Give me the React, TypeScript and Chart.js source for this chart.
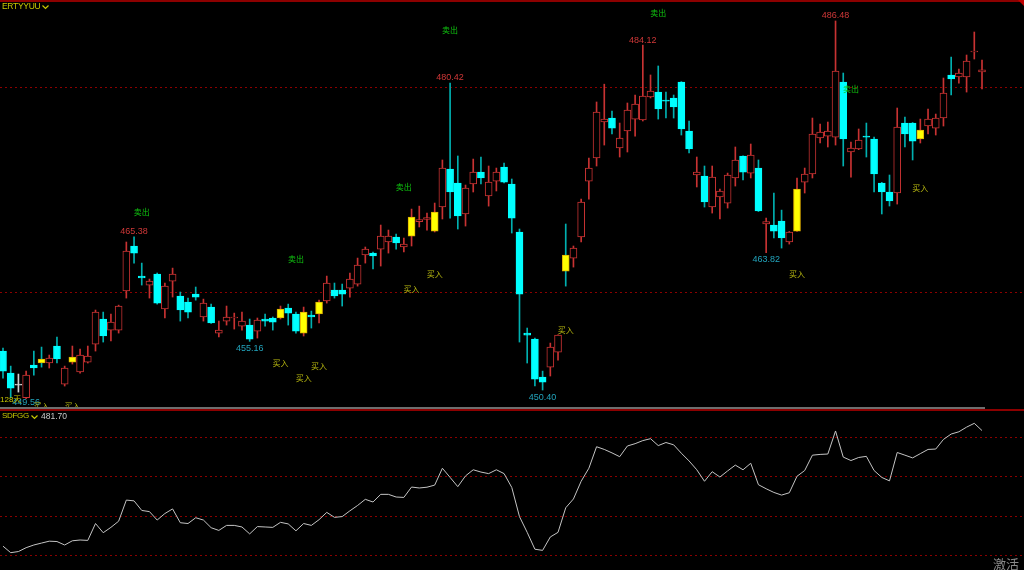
import React, { useEffect, useRef } from "react";
import { Chart, registerables } from "chart.js";

Chart.register(...registerables);

// ---- candle data (128 sessions) ----
const openPrices = [
  454.21, 452.06, 450.88, 449.66, 452.84, 453.43, 453.04, 454.70, 450.98, 453.13,
  452.16, 453.13, 454.89, 457.34, 456.26, 456.26, 460.08, 464.48, 461.54, 460.66,
  461.74, 458.32, 461.05, 459.59, 459.00, 459.78, 457.54, 458.51, 455.97, 457.14,
  457.44, 456.65, 456.75, 456.16, 457.34, 457.44, 457.44, 458.41, 457.83, 455.97,
  457.73, 457.83, 459.10, 460.17, 460.17, 460.37, 460.76, 463.60, 463.79, 464.18,
  464.87, 465.36, 464.38, 465.45, 466.87, 467.07, 465.94, 468.29, 472.01, 470.64,
  467.61, 470.54, 471.71, 469.37, 470.83, 472.20, 470.54, 465.85, 455.97, 455.38,
  451.67, 452.64, 454.11, 463.60, 463.30, 465.36, 470.83, 473.08, 476.60, 476.99,
  474.06, 475.72, 476.89, 476.80, 479.05, 479.53, 478.75, 478.95, 480.51, 475.72,
  471.42, 471.32, 468.29, 469.27, 468.68, 471.13, 473.28, 471.61, 472.10, 466.63,
  466.53, 466.92, 464.87, 465.94, 470.73, 471.52, 475.04, 475.23, 475.13, 480.51,
  473.67, 473.96, 475.23, 474.94, 470.64, 469.76, 469.66, 476.50, 476.50, 474.94,
  476.21, 476.01, 476.99, 481.20, 481.00, 481.00, 483.45, 481.49,
];
const highPrices = [
  454.50, 452.74, 451.96, 452.25, 454.21, 454.60, 453.82, 455.58, 452.74, 454.70,
  454.40, 454.70, 458.22, 458.02, 457.83, 458.70, 464.87, 465.38, 462.81, 461.25,
  461.84, 460.86, 462.32, 459.98, 459.39, 460.47, 459.29, 458.80, 457.14, 458.61,
  457.92, 458.02, 457.34, 457.44, 457.83, 457.54, 458.61, 458.80, 458.02, 458.51,
  458.12, 459.19, 461.54, 460.86, 460.76, 461.84, 463.30, 464.38, 463.89, 466.53,
  466.04, 465.65, 465.26, 468.09, 468.38, 467.70, 468.68, 472.89, 480.42, 473.28,
  470.44, 472.98, 473.18, 472.30, 472.10, 472.59, 471.03, 466.14, 456.46, 455.48,
  452.25, 454.99, 455.80, 466.63, 464.48, 469.07, 473.08, 478.56, 480.30, 477.68,
  476.50, 478.46, 479.24, 484.12, 481.20, 482.08, 479.53, 479.24, 480.55, 476.70,
  473.18, 472.30, 472.30, 470.05, 471.61, 474.16, 473.30, 474.45, 472.89, 467.21,
  469.66, 467.99, 465.90, 471.13, 472.10, 476.99, 476.40, 476.60, 486.48, 481.39,
  474.65, 475.92, 476.50, 475.13, 470.70, 471.42, 477.97, 477.09, 476.55, 476.89,
  477.87, 477.38, 480.90, 482.96, 481.78, 483.15, 485.40, 482.66,
];
const lowPrices = [
  451.57, 449.64, 450.20, 449.56, 451.86, 452.64, 452.55, 453.04, 450.79, 452.94,
  452.06, 453.04, 454.21, 455.09, 455.19, 455.97, 459.39, 462.81, 460.66, 459.39,
  458.80, 457.44, 459.49, 457.14, 457.44, 459.19, 457.14, 456.90, 455.58, 456.75,
  456.36, 456.26, 455.16, 455.48, 456.65, 456.26, 457.34, 456.75, 455.97, 455.68,
  456.46, 456.95, 458.90, 459.39, 458.61, 459.49, 460.56, 462.81, 462.23, 462.52,
  463.79, 464.18, 463.89, 464.48, 466.34, 466.04, 465.85, 467.12, 467.21, 466.14,
  466.43, 469.76, 470.54, 468.38, 469.86, 470.64, 465.75, 455.09, 453.04, 450.79,
  450.40, 451.77, 453.33, 460.56, 462.42, 464.87, 469.07, 472.30, 474.35, 475.43,
  473.18, 473.67, 475.23, 476.70, 478.95, 476.89, 476.99, 476.99, 475.33, 473.57,
  470.25, 468.29, 467.70, 467.12, 468.19, 470.34, 470.93, 471.13, 467.85, 463.82,
  465.26, 464.28, 464.67, 465.90, 469.66, 471.13, 474.55, 474.16, 474.35, 472.30,
  471.22, 473.90, 473.18, 469.76, 467.61, 468.39, 468.58, 474.16, 472.89, 474.55,
  475.43, 475.33, 476.21, 479.24, 480.41, 479.53, 482.76, 479.83,
];
const closePrices = [
  452.25, 450.59, 450.88, 451.86, 452.55, 453.04, 453.52, 453.43, 452.55, 453.62,
  453.82, 453.72, 458.02, 455.68, 457.04, 458.61, 463.99, 463.79, 461.35, 461.05,
  458.90, 460.56, 461.74, 458.22, 458.02, 459.49, 458.90, 456.95, 456.26, 457.54,
  457.54, 457.14, 455.38, 457.24, 457.14, 457.04, 458.32, 457.92, 456.16, 458.02,
  457.54, 459.00, 460.86, 459.59, 459.78, 461.25, 462.62, 464.18, 463.50, 465.45,
  465.45, 464.77, 464.67, 467.31, 467.07, 467.27, 467.80, 472.10, 469.76, 467.41,
  470.15, 471.71, 471.13, 470.73, 471.71, 470.73, 467.21, 459.78, 455.77, 451.47,
  451.18, 454.60, 455.77, 462.03, 464.28, 468.78, 472.10, 477.58, 476.89, 476.01,
  475.04, 477.77, 478.36, 479.14, 479.63, 477.87, 478.65, 478.07, 475.92, 473.96,
  471.71, 468.78, 471.22, 469.86, 471.42, 472.89, 471.71, 473.37, 467.90, 466.87,
  465.94, 465.26, 465.85, 470.05, 471.52, 475.43, 475.62, 475.72, 481.59, 474.94,
  474.06, 474.84, 475.13, 471.52, 469.76, 468.88, 476.11, 475.43, 474.74, 475.82,
  476.89, 476.99, 479.44, 480.81, 481.39, 482.57, 483.54, 481.70,
];

// ---- signals & marks ----
const buySignalIdx = [5, 9, 36, 39, 41, 53, 56, 73, 103, 119];
const buySignalLevel = [448.8, 448.8, 453.0, 451.6, 452.8, 460.3, 461.7, 456.3, 461.7, 470.2];
const sellSignalIdx = [18, 38, 52, 58, 85, 110];
const sellSignalLevel = [467.8, 463.2, 470.3, 485.6, 487.3, 479.8];
const highMarkIdx = [17, 58, 83, 108];
const lowMarkIdx = [3, 32, 70, 99];
const gridLevelsTop = [460, 480];
const gridLevelsBottom = [450, 460, 470, 480];

const candleIndex = openPrices.map((_, i) => i);
const buySet = new Set(buySignalIdx);

const X_MIN = -0.389;
const X_MAX = 132.448;
const TOP_MIN = 448.35;
const TOP_MAX = 488.53;
const BOT_MIN = 446.18;
const BOT_MAX = 486.68;

const UP = "#c83232";
const DOWN = "#00ffff";
const DOWN_WICK = "#00b0b0";
const HILITE = "#ffff00";
const HILITE_EDGE = "#e0b000";
const FLAT = "#d0d0d0";
const GRID = "#8c0000";
const SELL_TXT = "#10c810";
const BUY_TXT = "#bcbc10";
const HIGH_TXT = "#d03838";
const LOW_TXT = "#22a4bc";
const TITLE_TXT = "#c8c800";

const dirOf = (i: number) =>
  closePrices[i] > openPrices[i] ? 1 : closePrices[i] < openPrices[i] ? -1 : 0;

const bodyFill = candleIndex.map((i) =>
  buySet.has(i) ? HILITE : dirOf(i) > 0 ? "#000000" : dirOf(i) < 0 ? DOWN : FLAT
);
const bodyEdge = candleIndex.map((i) =>
  buySet.has(i) ? HILITE_EDGE : dirOf(i) > 0 ? UP : dirOf(i) < 0 ? DOWN : FLAT
);
const wickColor = candleIndex.map((i) =>
  dirOf(i) > 0 ? UP : dirOf(i) < 0 ? DOWN_WICK : FLAT
);

function gridPlugin(levels: number[]) {
  return {
    id: "dashGrid",
    beforeDatasetsDraw(chart: any) {
      const { ctx, chartArea, scales } = chart;
      ctx.save();
      ctx.strokeStyle = GRID;
      ctx.lineWidth = 1;
      ctx.setLineDash([2, 3]);
      levels.forEach((v) => {
        const y = Math.round(scales.y.getPixelForValue(v)) + 0.5;
        ctx.beginPath();
        ctx.moveTo(chartArea.left, y);
        ctx.lineTo(chartArea.right, y);
        ctx.stroke();
      });
      ctx.restore();
    },
  };
}

const markPlugin = {
  id: "marks",
  afterDatasetsDraw(chart: any) {
    const { ctx, scales, chartArea } = chart;
    const x = scales.x;
    const y = scales.y;
    ctx.save();
    ctx.textAlign = "center";
    ctx.textBaseline = "middle";
    ctx.font = '9px "Liberation Sans", Arial, sans-serif';
    ctx.fillStyle = HIGH_TXT;
    highMarkIdx.forEach((i) => {
      ctx.fillText(highPrices[i].toFixed(2), x.getPixelForValue(i), y.getPixelForValue(highPrices[i]) - 5);
    });
    ctx.fillStyle = LOW_TXT;
    lowMarkIdx.forEach((i) => {
      const py = Math.min(y.getPixelForValue(lowPrices[i]) + 7, chartArea.bottom - 8);
      ctx.fillText(lowPrices[i].toFixed(2), x.getPixelForValue(i), py);
    });
    ctx.font = '8px "Noto Sans CJK SC", sans-serif';
    ctx.fillStyle = SELL_TXT;
    sellSignalIdx.forEach((i, k) => {
      ctx.fillText("卖出", x.getPixelForValue(i), y.getPixelForValue(sellSignalLevel[k]));
    });
    ctx.fillStyle = BUY_TXT;
    buySignalIdx.forEach((i, k) => {
      ctx.fillText("买入", x.getPixelForValue(i), y.getPixelForValue(buySignalLevel[k]));
    });
    ctx.restore();
  },
};

function Chevron({ color }: { color: string }) {
  return (
    <svg width={7} height={5} style={{ display: "block", marginLeft: 2, marginTop: 3 }}>
      <polyline points="0.5,0.5 3.5,3.5 6.5,0.5" fill="none" stroke={color} strokeWidth={1.2} />
    </svg>
  );
}

export default function App() {
  const topRef = useRef<HTMLCanvasElement>(null);
  const botRef = useRef<HTMLCanvasElement>(null);

  useEffect(() => {
    const common: any = {
      responsive: false,
      animation: false,
      devicePixelRatio: 1,
      events: [],
      layout: { padding: 0 },
      plugins: { legend: { display: false }, tooltip: { enabled: false } },
    };
    const top = new Chart(topRef.current as HTMLCanvasElement, {
      type: "bar",
      data: {
        datasets: [
          {
            label: "body",
            data: candleIndex.map((i) => ({ x: i, y: [openPrices[i], closePrices[i]] })) as any,
            backgroundColor: bodyFill,
            borderColor: bodyEdge,
            borderWidth: 1,
            borderSkipped: false,
            barThickness: 7,
            minBarLength: 1,
            grouped: false,
            order: 0,
          } as any,
          {
            label: "wick",
            data: candleIndex.map((i) => ({ x: i, y: [lowPrices[i], highPrices[i]] })) as any,
            backgroundColor: wickColor,
            borderWidth: 0,
            barThickness: 1,
            grouped: false,
            order: 1,
          } as any,
        ],
      },
      options: {
        ...common,
        scales: {
          x: { type: "linear", min: X_MIN, max: X_MAX, display: false, offset: false, bounds: "data" },
          y: { type: "linear", min: TOP_MIN, max: TOP_MAX, display: false, bounds: "data" },
        },
      },
      plugins: [gridPlugin(gridLevelsTop), markPlugin],
    });
    const bot = new Chart(botRef.current as HTMLCanvasElement, {
      type: "line",
      data: {
        datasets: [
          {
            label: "SDFGG",
            data: candleIndex.map((i) => ({ x: i, y: closePrices[i] })) as any,
            borderColor: "#c4c4c4",
            borderWidth: 1,
            pointRadius: 0,
            tension: 0,
            fill: false,
          },
        ],
      },
      options: {
        ...common,
        scales: {
          x: { type: "linear", min: X_MIN, max: X_MAX, display: false, offset: false, bounds: "data" },
          y: { type: "linear", min: BOT_MIN, max: BOT_MAX, display: false, bounds: "data" },
        },
      },
      plugins: [gridPlugin(gridLevelsBottom)],
    });
    return () => {
      top.destroy();
      bot.destroy();
    };
  }, []);

  const lastClose = closePrices[closePrices.length - 1].toFixed(2);

  return (
    <div
      style={{
        position: "fixed",
        left: 0,
        top: 0,
        width: 1024,
        height: 570,
        background: "#000",
        overflow: "hidden",
        fontFamily: '"Liberation Sans", Arial, sans-serif',
      }}
    >
      <canvas ref={topRef} width={1024} height={411} style={{ position: "absolute", left: 0, top: 0, width: 1024, height: 411 }} />
      <canvas ref={botRef} width={1024} height={159} style={{ position: "absolute", left: 0, top: 411, width: 1024, height: 159 }} />
      <div style={{ position: "absolute", left: 0, top: 0, width: 1024, height: 2, background: "#8c0000" }} />
      <div
        style={{
          position: "absolute",
          right: 0,
          top: 0,
          width: 0,
          height: 0,
          borderTop: "6px solid #c00000",
          borderLeft: "6px solid transparent",
        }}
      />
      <div style={{ position: "absolute", left: 0, top: 407, width: 985, height: 2, background: "#6e6e6e" }} />
      <div style={{ position: "absolute", left: 0, top: 409, width: 1024, height: 2, background: "#8c0000" }} />
      <div style={{ position: "absolute", left: 2, top: 2, display: "flex", alignItems: "flex-start", fontSize: 8.5, lineHeight: "9px", letterSpacing: "-0.3px", color: TITLE_TXT }}>
        <span>ERTYYUU</span>
        <Chevron color={TITLE_TXT} />
      </div>
      <div
        style={{
          position: "absolute",
          left: 0,
          top: 396,
          fontSize: 8,
          lineHeight: "8px",
          color: TITLE_TXT,
          fontFamily: '"Liberation Sans", "Noto Sans CJK SC", sans-serif',
        }}
      >
        {`${openPrices.length}天`}
      </div>
      <div style={{ position: "absolute", left: 2, top: 412, display: "flex", alignItems: "flex-start", fontSize: 8, lineHeight: "8px", letterSpacing: "-0.3px", color: TITLE_TXT }}>
        <span>SDFGG</span>
        <Chevron color={TITLE_TXT} />
      </div>
      <div style={{ position: "absolute", left: 41, top: 412, fontSize: 8.5, lineHeight: "8px", color: "#c8c8c8" }}>{lastClose}</div>
      <div
        style={{
          position: "absolute",
          left: 993,
          top: 557,
          fontSize: 13,
          lineHeight: "13px",
          color: "#8a8a8a",
          fontFamily: '"Noto Sans CJK SC", sans-serif',
        }}
      >
        激活
      </div>
    </div>
  );
}
